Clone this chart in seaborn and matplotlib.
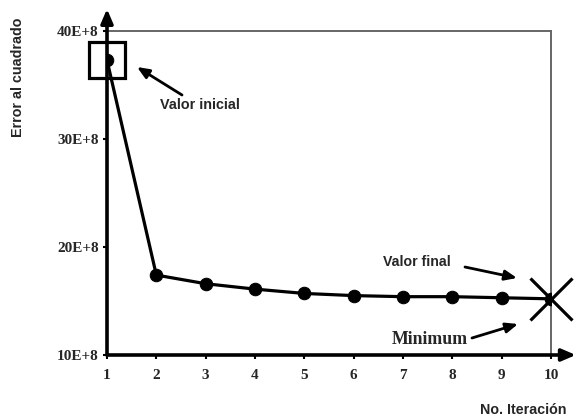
import matplotlib
matplotlib.use("Agg")
import matplotlib.pyplot as plt
import seaborn as sns
import pandas as pd
import numpy as np

iterations = [1, 2, 3, 4, 5, 6, 7, 8, 9, 10]
error_e8 = [37.3, 17.4, 16.6, 16.1, 15.7, 15.5, 15.4, 15.4, 15.3, 15.2]
y_ticks_e8 = [10, 20, 30, 40]
y_tick_labels = ["10E+8", "20E+8", "30E+8", "40E+8"]

df = pd.DataFrame({"iter": iterations, "err": [v * 1e8 for v in error_e8]})

sns.set_theme(style="white")
plt.rcParams["font.family"] = ["DejaVu Sans"]

W, H = 576, 419
fig = plt.figure(figsize=(W / 100, H / 100), dpi=100)
ax = fig.add_axes([107 / W, 1 - 355 / H, (551 - 107) / W, (355 - 31) / H])

sns.lineplot(data=df, x="iter", y="err", ax=ax, color="black", lw=2.3,
             marker="o", markersize=9, markeredgecolor="black", zorder=5)

ax.set_xlim(1, 10)
ax.set_ylim(10e8, 40e8)
ax.set_xticks(iterations)
ax.set_xticklabels([str(i) for i in iterations])
ax.set_yticks([v * 1e8 for v in y_ticks_e8])
ax.set_yticklabels(y_tick_labels)
ax.set_xlabel("")
ax.set_ylabel("")

for lab in ax.get_xticklabels() + ax.get_yticklabels():
    lab.set_fontfamily("Liberation Serif")
    lab.set_fontweight("bold")
    lab.set_fontsize(11)
ax.tick_params(axis="both", which="both", length=3, width=1.5, color="black",
               direction="out", bottom=True, left=True)
ax.tick_params(axis="y", pad=3)
ax.tick_params(axis="x", pad=7)

for s in ["top", "right"]:
    ax.spines[s].set_color("#666666")
    ax.spines[s].set_linewidth(1.4)
for s in ["left", "bottom"]:
    ax.spines[s].set_visible(False)

# axis arrows
ax.annotate("", xy=(0, 1.068), xytext=(0, 0), xycoords="axes fraction",
            arrowprops=dict(arrowstyle="-|>,head_length=0.7,head_width=0.3",
                            lw=2.6, color="black", shrinkA=0, shrinkB=0),
            annotation_clip=False)
ax.annotate("", xy=(1.056, 0), xytext=(0, 0), xycoords="axes fraction",
            arrowprops=dict(arrowstyle="-|>,head_length=0.7,head_width=0.3",
                            lw=2.6, color="black", shrinkA=0, shrinkB=0),
            annotation_clip=False)

# highlight markers
ax.plot(iterations[0], error_e8[0] * 1e8, marker="s", markersize=26,
        markerfacecolor="none", markeredgecolor="black", markeredgewidth=2.3,
        clip_on=False, zorder=6)
ax.plot(iterations[-1], error_e8[-1] * 1e8, marker="x", markersize=30,
        markeredgecolor="black", markeredgewidth=2.3, clip_on=False, zorder=6)

def px(x, y):
    return (x / W, 1 - y / H)

arrow_kw = dict(arrowstyle="-|>,head_length=0.6,head_width=0.25", lw=2,
                color="black", shrinkA=0, shrinkB=0)
fig.text(*px(160, 105), "Valor inicial", fontsize=10.4, fontweight="bold",
         family="Liberation Sans", ha="left", va="center")
ax.annotate("", xy=px(137, 67), xytext=px(182, 95), xycoords="figure fraction",
            textcoords="figure fraction", arrowprops=arrow_kw, annotation_clip=False)

fig.text(*px(383, 262), "Valor final", fontsize=10.2, fontweight="bold",
         family="Liberation Sans", ha="left", va="center")
ax.annotate("", xy=px(517, 278), xytext=px(465, 267), xycoords="figure fraction",
            textcoords="figure fraction", arrowprops=arrow_kw, annotation_clip=False)

fig.text(*px(392, 339), "Minimum", fontsize=12.8, fontweight="bold",
         family="Liberation Serif", ha="left", va="center")
ax.annotate("", xy=px(518, 324), xytext=px(472, 338), xycoords="figure fraction",
            textcoords="figure fraction", arrowprops=arrow_kw, annotation_clip=False)

fig.text(*px(18, 77), "Error al cuadrado", fontsize=10.3, fontweight="bold",
         family="Liberation Sans", rotation=90, ha="center", va="center")
fig.text(*px(523, 410), "No. Iteración", fontsize=10.3, fontweight="bold",
         family="Liberation Sans", ha="center", va="center")

fig.savefig("out.png", dpi=100)
